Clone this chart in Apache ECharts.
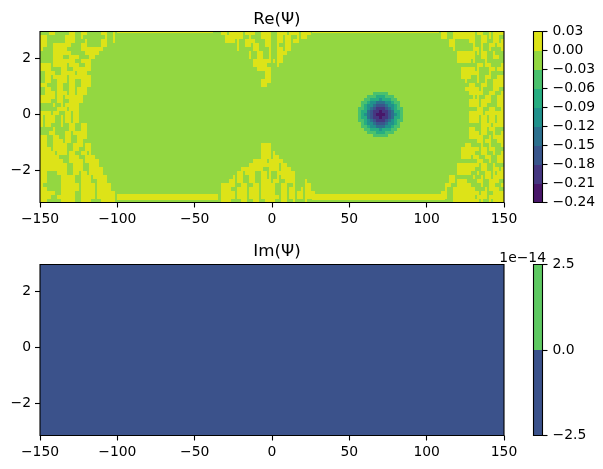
<!DOCTYPE html>
<html>
<head>
<meta charset="utf-8">
<style>html,body{margin:0;padding:0;background:#fff}#chart{width:603px;height:469px}</style>
<script src="https://cdn.jsdelivr.net/npm/echarts@6/dist/echarts.min.js"></script>
</head>
<body>
<div id="chart"></div>
<script>
// contour levels and the colour of each band between them
var reLevels = [-0.24, -0.21, -0.18, -0.15, -0.12, -0.09, -0.06, -0.03, 0.00, 0.03];
var reColors = ['#481769', '#453781', '#39568c', '#2d708e', '#21918c', '#27ad81', '#4ac16d', '#93d741', '#dde318'];
var imLevels = [-2.5, 0, 2.5];
var imColors = ['#3b528b', '#5ec962'];
var xRange = [-150, 150];
var yRange = [-3.14, 2.95];
var xTicks = [-150, -100, -50, 0, 50, 100, 150];
var yTicks = [-2, 0, 2];

// sampled field: 116 columns x 43 rows, top row first. spans = columns in band 8 (yellow)
var colCount = 116;
var leftSpans = [
  [[2,3],[7,8],[10,11],[15,16],[18,18]],
  [[0,1],[6,8],[10,10],[16,16],[18,18]],
  [[0,1],[6,8],[11,11],[15,16],[18,18]],
  [[0,1],[3,7],[10,11],[15,16]],
  [[0,0],[3,6],[10,15]],
  [[3,7],[11,14]],
  [[3,5],[7,9],[12,13]],
  [[3,8],[10,12]],
  [[0,2],[3,6],[7,9],[11,12]],
  [[0,2],[5,6],[8,12]],
  [[1,3],[5,8],[9,11]],
  [[1,2],[3,6],[7,12]],
  [[1,2],[4,6],[7,8],[10,12]],
  [[0,1],[4,5],[7,8],[10,12]],
  [[1,2],[4,5],[7,8],[9,11]],
  [[1,3],[4,6],[7,8],[9,11]],
  [[0,3],[4,5],[6,10]],
  [[0,2],[4,5],[7,10]],
  [[3,3],[5,5],[6,9]],
  [[4,6],[7,9]],
  [[0,2],[3,4],[6,7],[8,9]],
  [[0,0],[1,3],[5,5],[6,7],[8,9]],
  [[0,0],[1,3],[5,5],[6,7],[8,9]],
  [[0,0],[1,2],[5,5],[7,8],[10,11]],
  [[3,3],[7,8],[10,11]],
  [[2,3],[6,7],[8,11]],
  [[0,1],[3,4],[6,7],[9,11]],
  [[0,1],[3,5],[6,7],[9,10]],
  [[0,1],[3,6],[8,10],[11,12]],
  [[0,2],[3,6],[8,9],[11,12]],
  [[0,3],[4,6],[7,8],[10,11],[12,12]],
  [[0,4],[7,9],[11,13]],
  [[0,5],[7,10],[11,14]],
  [[0,6],[8,10],[12,14]],
  [[0,6],[8,10],[12,15]],
  [[0,1],[4,6],[8,9],[10,11],[12,15]],
  [[0,1],[5,8],[10,12],[13,16]],
  [[0,1],[5,8],[10,12],[14,16]],
  [[0,0],[5,9],[10,13],[14,17]],
  [[0,1],[5,9],[10,13],[14,17]],
  [[0,3],[5,8],[10,13],[14,18]],
  [[0,2],[4,8],[10,13],[14,18]],
  [[0,1],[5,8],[10,12],[15,18]]
];
var midSpans = [
  [[45,46],[47,50],[51,53],[55,57],[59,61],[62,64],[65,67]],
  [[46,50],[52,52],[55,57],[59,60],[61,62],[64,64],[65,66]],
  [[46,48],[49,49],[51,53],[56,57],[59,60],[61,62],[63,64]],
  [[49,49],[51,52],[53,54],[56,57],[59,59],[61,62]],
  [[49,49],[53,54],[57,57],[59,60],[61,62]],
  [[52,52],[54,55],[57,57],[59,61]],
  [[52,52],[54,55],[57,57],[59,60]],
  [[53,57],[58,58],[59,60]],
  [[53,56],[59,59]],
  [[54,57]],
  [[56,57]],
  [[56,57]],
  [[55,57]],
  [[55,56]],
  [], [], [], [], [], [], [], [], [], [], [], [], [], [],
  [[55,57]],
  [[55,57]],
  [[55,57],[58,58]],
  [[55,57],[58,59]],
  [[53,56],[57,60]],
  [[52,59],[60,61]],
  [[50,55],[57,59],[60,62]],
  [[49,50],[51,53],[55,56],[57,57],[59,63]],
  [[48,48],[49,50],[52,53],[55,56],[57,57],[59,59],[60,63]],
  [[47,48],[49,50],[52,53],[55,57],[58,59],[61,63],[66,66]],
  [[45,48],[50,51],[53,54],[55,58],[60,61],[63,63],[66,67]],
  [[45,47],[49,51],[52,54],[55,58],[60,61],[62,63],[65,65],[66,67]],
  [[45,48],[49,51],[52,54],[55,58],[60,61],[62,63],[64,65],[66,68]],
  [[45,48],[49,51],[52,54],[55,59],[60,61],[62,63],[64,65],[66,68]],
  [[45,47],[50,51],[53,54],[56,58],[60,61],[63,63],[66,66]]
];
var rightSpans = [
  [[100,101],[103,108],[109,110],[112,112],[113,115]],
  [[100,101],[103,108],[110,111],[112,112],[113,114]],
  [[102,103],[107,108],[110,111],[113,114],[115,115]],
  [[102,103],[108,108],[110,110],[112,113],[114,115]],
  [[103,103],[108,109],[110,110],[112,112],[115,115]],
  [[104,108],[109,109],[110,111],[113,113]],
  [[104,108],[110,111],[113,114]],
  [[104,107],[108,108],[111,111]],
  [[109,110],[111,112],[115,115]],
  [[105,108],[109,109],[112,113],[114,115]],
  [[105,108],[108,109],[112,112]],
  [[105,107],[109,109],[111,112],[114,115]],
  [[106,106],[109,109],[111,111],[113,115]],
  [[107,108],[110,111],[113,115]],
  [[106,109],[110,110],[113,114]],
  [[107,109],[109,110],[112,113],[115,115]],
  [[108,108],[109,109],[111,112],[114,115]],
  [[107,109],[110,112],[114,115]],
  [[107,109],[110,111],[114,115]],
  [[109,110],[112,113],[115,115]],
  [[107,110],[111,115]],
  [[107,109],[110,111],[112,113],[114,115]],
  [[107,109],[110,111],[112,113],[114,115]],
  [[110,112],[113,115]],
  [[107,108],[110,111],[112,113]],
  [[107,109],[110,111],[113,113],[115,115]],
  [[107,110],[112,112],[113,115]],
  [[109,110],[111,112],[114,115]],
  [[106,107],[110,110],[112,112],[115,115]],
  [[105,109],[110,111],[112,113]],
  [[105,108],[110,111],[113,113],[115,115]],
  [[105,107],[108,109],[111,112],[114,115]],
  [[109,110],[112,112],[114,115]],
  [[104,109],[110,111],[113,113]],
  [[104,108],[110,111],[113,114],[115,115]],
  [[104,107],[109,109],[111,112],[113,113],[114,115]],
  [[102,103],[108,108],[110,110],[111,112],[113,115]],
  [[102,103],[104,106],[109,110],[112,114]],
  [[101,102],[104,107],[110,110],[112,113],[115,115]],
  [[101,101],[103,108],[111,111],[112,114]],
  [[100,101],[103,109],[110,111],[113,115]],
  [[100,101],[103,108],[109,111],[112,115]],
  [[103,109],[110,110],[112,112],[113,115]]
];
// thin yellow strips along top and bottom: x0, x1, y0, y1
var reStrips = [
  [-100, -38, 2.89, 2.95],
  [26, 108, 2.89, 2.95],
  [-100, -35, -3.06, -2.85],
  [26, 112, -3.06, -2.85]
];
// the dip near x=70, band index per cell
var wellCenter = [70, 0];
var wellCell = [1.94, 0.107];
var wellRows = [
  '777776666677777',
  '777666555666777',
  '776655545556677',
  '766544333445667',
  '765443222344567',
  '665432111234566',
  '655321101123556',
  '654321000123456',
  '655321101123556',
  '665432111234566',
  '765443222344567',
  '766544333445667',
  '776655545556677',
  '777666555666777',
  '777776666677777'
];
var reBase = 7;
var imBase = 0;

function buildReData() {
    var data = [[xRange[0], xRange[1], yRange[0], yRange[1], reBase]];
    var cw = (xRange[1] - xRange[0]) / colCount;
    var rh = (yRange[1] - yRange[0]) / leftSpans.length;
    for (var r = 0; r < leftSpans.length; r++) {
        var spans = leftSpans[r].concat(midSpans[r], rightSpans[r]);
        var top = yRange[1] - r * rh;
        spans.forEach(function (s) {
            // columns were read to the nearest cell, pull the ends in a little
            var a = s[0] === 0 ? 0 : s[0] + 0.2;
            var b = s[1] === colCount - 1 ? colCount : s[1] + 0.8;
            data.push([xRange[0] + a * cw, xRange[0] + b * cw, top - rh, top, 8]);
        });
    }
    reStrips.forEach(function (s) {
        data.push([s[0], s[1], s[2], s[3], 8]);
    });
    wellRows.forEach(function (row, j) {
        for (var i = 0; i < row.length; i++) {
            var x = wellCenter[0] + (i - 7.5) * wellCell[0];
            var y = wellCenter[1] + (7.5 - j) * wellCell[1];
            data.push([x, x + wellCell[0], y - wellCell[1], y, +row.charAt(i)]);
        }
    });
    return data;
}

function bandData(levels) {
    var data = [];
    for (var i = 0; i < levels.length - 1; i++) {
        data.push([0, 1, levels[i], levels[i + 1], i]);
    }
    return data;
}

function cellSeries(idx, colors, data) {
    return {
        type: 'custom',
        xAxisIndex: idx,
        yAxisIndex: idx,
        animation: false,
        silent: true,
        clip: true,
        encode: {x: [0, 1], y: [2, 3]},
        data: data,
        renderItem: function (params, api) {
            var a = api.coord([api.value(0), api.value(3)]);
            var b = api.coord([api.value(1), api.value(2)]);
            var x0 = Math.round(a[0]), y0 = Math.round(a[1]);
            return {
                type: 'rect',
                shape: {x: x0, y: y0, width: Math.round(b[0]) - x0, height: Math.round(b[1]) - y0},
                style: {fill: colors[api.value(4)]}
            };
        }
    };
}

// box around a plot, drawn over the cells
function frameSeries(idx, xr, yr) {
    return {
        type: 'custom',
        xAxisIndex: idx,
        yAxisIndex: idx,
        animation: false,
        silent: true,
        clip: false,
        z: 10,
        encode: {x: [0, 1], y: [2, 3]},
        data: [[xr[0], xr[1], yr[0], yr[1]]],
        renderItem: function (params, api) {
            var a = api.coord([api.value(0), api.value(3)]);
            var b = api.coord([api.value(1), api.value(2)]);
            return {
                type: 'rect',
                shape: {x: a[0], y: a[1], width: b[0] - a[0], height: b[1] - a[1]},
                style: {fill: 'none', stroke: '#000', lineWidth: 1.1}
            };
        }
    };
}

var font = 'DejaVu Sans';
function minus(s) { return String(s).replace('-', '\u2212'); }
function tickStyle(values) {
    return {show: true, customValues: values, length: 5, lineStyle: {color: '#000', width: 1.1}};
}
function labelStyle(values, margin, fmt) {
    return {
        show: true, customValues: values, color: '#000', fontFamily: font, fontSize: 13.9, margin: margin,
        hideOverlap: false,
        formatter: function (v) { return minus(fmt ? fmt(v) : v); }
    };
}
var noLine = {show: false, onZero: false};
function plotX(idx) {
    return {gridIndex: idx, type: 'value', min: xRange[0], max: xRange[1], axisLine: noLine,
        splitLine: {show: false}, axisTick: tickStyle(xTicks), axisLabel: labelStyle(xTicks, 10)};
}
function plotY(idx) {
    return {gridIndex: idx, type: 'value', min: yRange[0], max: yRange[1], axisLine: noLine,
        splitLine: {show: false}, axisTick: tickStyle(yTicks), axisLabel: labelStyle(yTicks, 9)};
}
function barX(idx) {
    return {gridIndex: idx, type: 'value', min: 0, max: 1, show: false};
}
function barY(idx, levels, digits) {
    return {gridIndex: idx, type: 'value', position: 'right', min: levels[0], max: levels[levels.length - 1],
        axisLine: noLine, splitLine: {show: false}, axisTick: tickStyle(levels),
        axisLabel: labelStyle(levels, 10, function (v) { return v.toFixed(digits); })};
}

var chart = echarts.init(document.getElementById('chart'));
chart.setOption({
    animation: false,
    backgroundColor: '#fff',
    title: [
        {text: 'Re(\u03a8)', left: 272, top: 6, textAlign: 'center',
            textStyle: {fontFamily: font, fontSize: 16.7, fontWeight: 'normal', color: '#000'}},
        {text: 'Im(\u03a8)', left: 272, top: 238, textAlign: 'center',
            textStyle: {fontFamily: font, fontSize: 16.7, fontWeight: 'normal', color: '#000'}},
        {text: '1e\u221214', left: 541, top: 246, textAlign: 'right',
            textStyle: {fontFamily: font, fontSize: 13.9, fontWeight: 'normal', color: '#000'}}
    ],
    grid: [
        {left: 40, top: 31.5, width: 464, height: 171},
        {left: 40, top: 264.5, width: 464, height: 171},
        {left: 533.5, top: 31.5, width: 9, height: 171},
        {left: 533.5, top: 264.5, width: 9, height: 171}
    ],
    xAxis: [plotX(0), plotX(1), barX(2), barX(3)],
    yAxis: [plotY(0), plotY(1), barY(2, reLevels, 2), barY(3, imLevels, 1)],
    series: [
        cellSeries(0, reColors, buildReData()),
        cellSeries(1, imColors, [[xRange[0], xRange[1], yRange[0], yRange[1], imBase]]),
        cellSeries(2, reColors, bandData(reLevels)),
        cellSeries(3, imColors, bandData(imLevels)),
        frameSeries(0, xRange, yRange),
        frameSeries(1, xRange, yRange),
        frameSeries(2, [0, 1], [reLevels[0], reLevels[reLevels.length - 1]]),
        frameSeries(3, [0, 1], [imLevels[0], imLevels[imLevels.length - 1]])
    ]
});
</script>
</body>
</html>
